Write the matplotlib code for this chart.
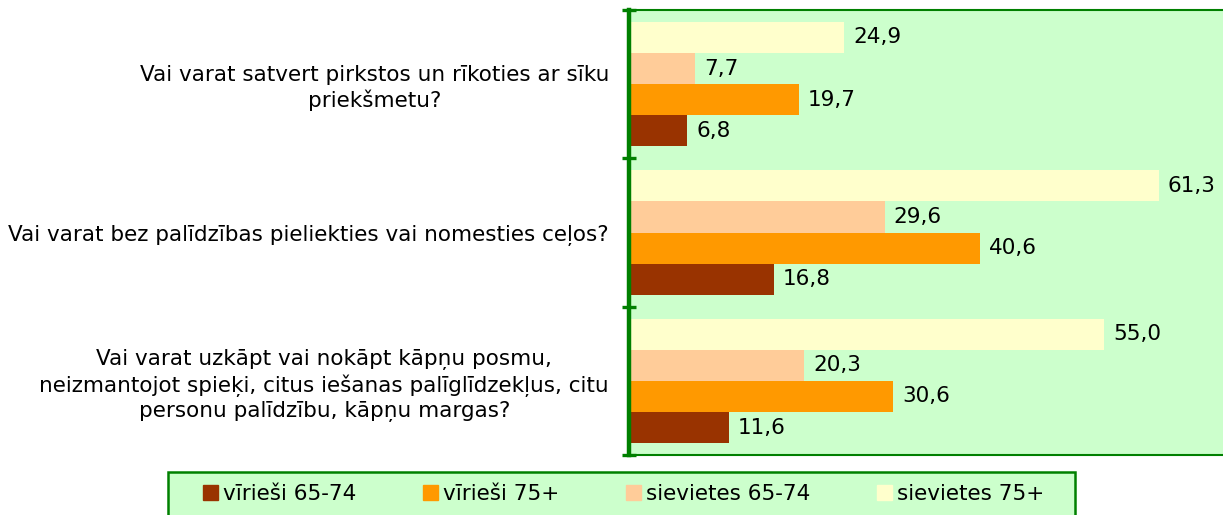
import matplotlib.pyplot as plt
import matplotlib.patches as mpatches
import numpy as np

# questions (top to bottom) and survey shares in %
questions = [
    "Vai varat satvert pirkstos un rīkoties ar sīku\npriekšmetu?",
    "Vai varat bez palīdzības pieliekties vai nomesties ceļos?",
    "Vai varat uzkāpt vai nokāpt kāpņu posmu,\nneizmantojot spieķi, citus iešanas palīglīdzekļus, citu\npersonu palīdzību, kāpņu margas?",
]
series_names = ["vīrieši 65-74", "vīrieši 75+", "sievietes 65-74", "sievietes 75+"]
men_65_74 = [6.8, 16.8, 11.6]
men_75 = [19.7, 40.6, 30.6]
women_65_74 = [7.7, 29.6, 20.3]
women_75 = [24.9, 61.3, 55.0]
colors = ["#993300", "#FF9900", "#FFCC99", "#FFFFCC"]

green = "#008000"
plt.rcParams['font.family'] = ['DejaVu Sans']
fs = 15.5

fig = plt.figure(figsize=(12.23, 5.15), dpi=100)
ax = fig.add_axes([628.5 / 1223, 1 - 455 / 515, 70 * 8.65 / 1223, 445 / 515])
ax.set_facecolor("#CCFFCC")

y = np.arange(len(questions))
h = 0.21
offsets = [0.315, 0.105, -0.105, -0.315]  # men 65-74 lowest, women 75+ on top
for vals, off, col in zip([men_65_74, men_75, women_65_74, women_75], offsets, colors):
    bars = ax.barh(y + off, vals, height=h, color=col, zorder=2)
    for b, v in zip(bars, vals):
        ax.annotate(f"{v:.1f}".replace(".", ","), (v, b.get_y() + h / 2),
                    xytext=(6.5, 0), textcoords="offset points",
                    va="center", ha="left", fontsize=fs)

ax.set_xlim(0, 70)
ax.set_ylim(2.5, -0.5)
ax.set_xticks([])
ax.set_yticks(y)
ax.set_yticklabels(questions, fontsize=fs, multialignment="center", linespacing=1.25)
ax.tick_params(axis="y", which="major", length=0, pad=14)
ax.set_yticks([-0.5, 0.5, 1.5, 2.5], minor=True)
ax.tick_params(axis="y", which="minor", direction="inout", length=10, width=2.4, color=green)

ax.spines["left"].set_color(green)
ax.spines["left"].set_linewidth(3.2)
ax.spines["top"].set_color(green)
ax.spines["top"].set_linewidth(1.5)
ax.spines["bottom"].set_color(green)
ax.spines["bottom"].set_linewidth(1.5)
ax.spines["right"].set_visible(False)

# legend box, runs off the bottom edge
fig.patches.append(mpatches.Rectangle((168 / 1223, -0.05), (1075 - 168) / 1223, 0.05 + 1 - 472 / 515,
                                      transform=fig.transFigure, facecolor="#CCFFCC",
                                      edgecolor=green, linewidth=1.8, zorder=0))
handles = [mpatches.Patch(color=c) for c in colors]
fig.legend(handles, series_names, ncol=4, frameon=False, fontsize=fs,
           loc="center left", bbox_to_anchor=(203 / 1223, 1 - 494 / 515),
           handlelength=0.68, handleheight=0.65, handletextpad=0.25,
           columnspacing=3.1, borderpad=0, borderaxespad=0)

fig.savefig("out.png", dpi=100)
